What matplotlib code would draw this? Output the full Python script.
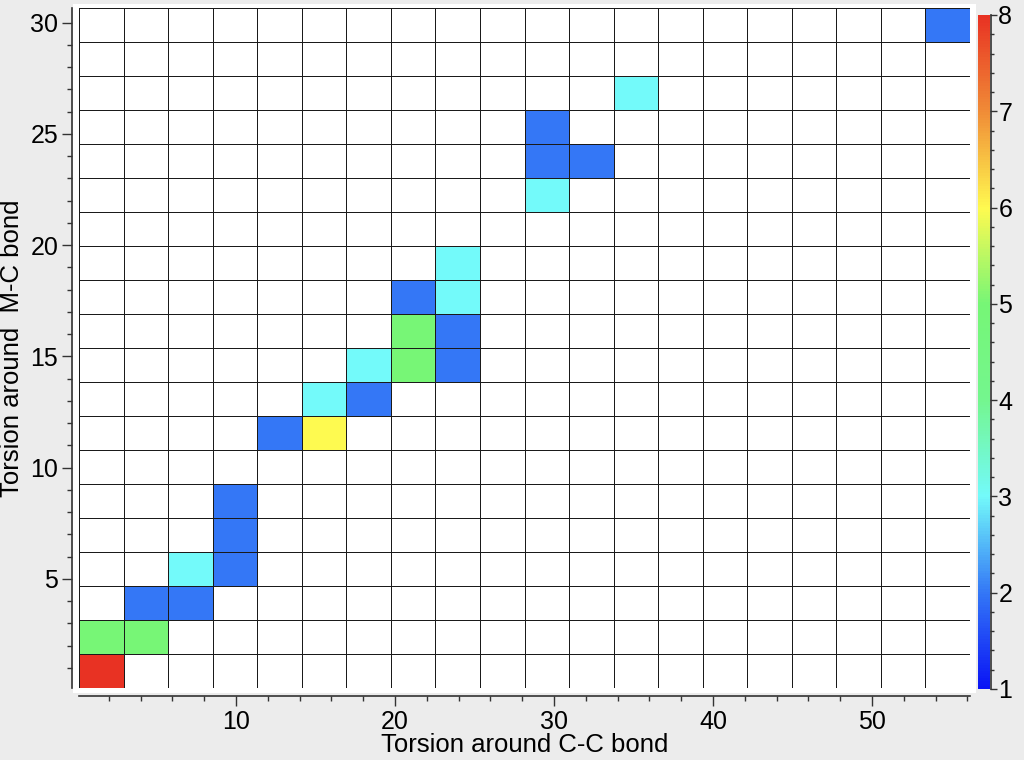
import numpy as np
import matplotlib
matplotlib.use('Agg')
import matplotlib.pyplot as plt
from matplotlib.colors import LinearSegmentedColormap, Normalize
from matplotlib.patches import Rectangle
from matplotlib.ticker import MultipleLocator

plt.rcParams['font.family'] = ['Liberation Sans', 'DejaVu Sans']

# histogram grid (20 x 20 bins)
n_bins = 20
x_min, x_max = 0.13, 56.16
y_min, y_max = 0.09, 30.66

# non-empty bins: column index, row index, count
cell_col = [0, 0, 1, 1, 2, 2, 3, 3, 3, 4, 5, 5, 6, 6, 7, 7, 7, 8, 8, 8, 8, 10, 10, 10, 11, 12, 19]
cell_row = [0, 1, 1, 2, 2, 3, 3, 4, 5, 7, 7, 8, 8, 9, 9, 10, 11, 9, 10, 11, 12, 14, 15, 16, 15, 17, 19]
cell_count = [8, 5, 5, 2, 2, 3, 2, 2, 2, 2, 6, 3, 2, 3, 5, 5, 2, 2, 2, 3, 3, 3, 2, 2, 2, 3, 2]

# colour scale anchors
cmap_values = [1, 2, 3, 4, 5, 6, 7, 8]
cmap_colors = ['#0a14f5', '#3478f6', '#73fafa', '#74f68e', '#76f676',
               '#fffa50', '#f08c37', '#e83223']

counts = np.zeros((n_bins, n_bins))
for c, r, v in zip(cell_col, cell_row, cell_count):
    counts[r, c] = v

x_edges = np.linspace(x_min, x_max, n_bins + 1)
y_edges = np.linspace(y_min, y_max, n_bins + 1)

vmin, vmax = cmap_values[0], cmap_values[-1]
pos = [(v - vmin) / (vmax - vmin) for v in cmap_values]
cmap = LinearSegmentedColormap.from_list('torsion', list(zip(pos, cmap_colors)))
cmap.set_under('white')

fig = plt.figure(figsize=(10.24, 7.6), dpi=100, facecolor='#ececec')
# white panel behind the plot
fig.patches.append(Rectangle((73 / 1024, 1 - 693 / 760), (976 - 73) / 1024, (693 - 4) / 760,
                             transform=fig.transFigure, facecolor='white', edgecolor='none', zorder=-5))

ax = fig.add_axes([79 / 1024, 1 - 688 / 760, (970 - 79) / 1024, (688 - 8) / 760])
ax.set_zorder(2)
mesh = ax.pcolormesh(x_edges, y_edges, counts, cmap=cmap, norm=Normalize(vmin, vmax),
                     edgecolors='#1a1a1a', linewidth=0.65)
ax.set_xlim(x_min, x_max)
ax.set_ylim(y_min, y_max)

for s in ['top', 'right']:
    ax.spines[s].set_visible(False)
ax.spines['left'].set_position(('outward', 5))
ax.spines['bottom'].set_position(('outward', 6))
for s in ['left', 'bottom']:
    ax.spines[s].set_linewidth(1.2)
    ax.spines[s].set_color('#333333')

ax.xaxis.set_major_locator(MultipleLocator(10))
ax.xaxis.set_minor_locator(MultipleLocator(2))
ax.yaxis.set_major_locator(MultipleLocator(5))
ax.yaxis.set_minor_locator(MultipleLocator(1))
ax.tick_params(which='major', direction='out', length=7, width=1, labelsize=18, pad=3, color='#333333')
ax.tick_params(which='minor', direction='out', length=3.5, width=1, color='#333333')

ax.set_xlabel('Torsion around C-C bond', fontsize=18.5, labelpad=-1)
ax.set_ylabel('Torsion around  M-C bond', fontsize=18.5)
ax.yaxis.set_label_coords(-0.062, 0.5)

cax = fig.add_axes([978 / 1024, 1 - 689 / 760, 12 / 1024, (689 - 15) / 760])
cax.set_zorder(2)
cb = fig.colorbar(mesh, cax=cax)
cb.outline.set_visible(False)
cax.plot([1.1, 1.1], [0, 1], transform=cax.transAxes, color='#333333', lw=1.2, clip_on=False)
cb.set_ticks(range(1, 9))
cax.yaxis.set_minor_locator(MultipleLocator(0.2))
cax.tick_params(which='major', direction='out', length=5, width=1, labelsize=18, pad=1, color='#333333')
cax.tick_params(which='minor', direction='out', length=3, width=1, color='#333333')

fig.savefig('out.png', dpi=100, facecolor=fig.get_facecolor())
